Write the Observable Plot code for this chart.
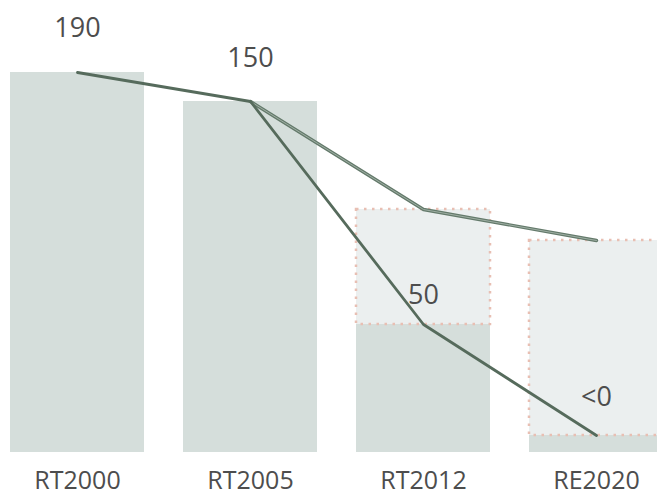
<!DOCTYPE html>
<html>
<head>
<meta charset="utf-8">
<script src="https://cdn.jsdelivr.net/npm/d3@7"></script>
<script src="https://cdn.jsdelivr.net/npm/@observablehq/plot@0.6"></script>
<style>
  html, body { margin: 0; padding: 0; background: white; overflow: hidden; }
</style>
</head>
<body>
<div id="chart"></div>
<script>
const categories = ["RT2000", "RT2005", "RT2012", "RE2020"];
const barValues = [190, 175.5, 64, 8.5];
const boxTops = [null, null, 121.5, 106];
const valueLabels = ["190", "150", "50", "<0"];
const labelY = [212, 197, 78.5, 27.5];
const upperValues = [null, 175.5, 121.5, 106];

const bars = categories.map((c, i) => ({cat: c, v: barValues[i]}));
const boxes = categories.map((c, i) => ({cat: c, lo: barValues[i], hi: boxTops[i]})).filter(d => d.hi != null);
const lower = categories.map((c, i) => ({cat: c, v: barValues[i]}));
const upper = categories.map((c, i) => ({cat: c, v: upperValues[i]})).filter(d => d.v != null);
const labels = categories.map((c, i) => ({cat: c, y: labelY[i], t: valueLabels[i]}));

const chart = Plot.plot({
  width: 657,
  height: 496,
  marginTop: 0,
  marginBottom: 44,
  marginLeft: 0,
  marginRight: 0,
  style: {fontFamily: "'Open Sans', sans-serif", background: "white"},
  x: {type: "band", domain: categories, range: [0, 673], paddingInner: 0.224, paddingOuter: 0.046, axis: null},
  y: {domain: [0, 226], range: [452, 0], axis: null},
  marks: [
    Plot.rectY(boxes, {x: "cat", y1: "lo", y2: "hi", fill: "#ebefef"}),
    Plot.barY(bars, {x: "cat", y: "v", fill: "#d5dedb"}),
    Plot.rectY(boxes, {x: "cat", y1: "lo", y2: "hi", fill: "none", stroke: "#e8bfb3", strokeWidth: 2.5, strokeDasharray: "2.5 5.5"}),
    Plot.line(upper, {x: "cat", y: "v", stroke: "#647a6b", strokeWidth: 3.4}),
    Plot.line(upper, {x: "cat", y: "v", stroke: "#9fafa4", strokeWidth: 1}),
    Plot.line(lower, {x: "cat", y: "v", stroke: "#566b5c", strokeWidth: 2.8}),
    Plot.text(labels, {x: "cat", y: "y", text: "t", fontSize: 27, fill: "#4d4d4d", lineAnchor: "middle"}),
    Plot.text(categories, {x: d => d, frameAnchor: "bottom", dy: 28.5, text: d => d, fontSize: 25, fill: "#4d4d4d", lineAnchor: "middle"})
  ]
});
document.getElementById("chart").appendChild(chart);
</script>
</body>
</html>
